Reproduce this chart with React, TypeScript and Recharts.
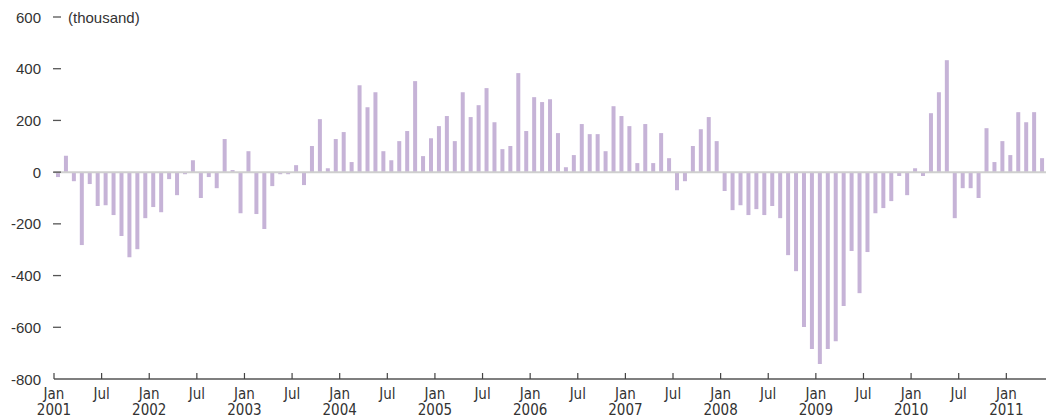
import { Bar, BarChart, ReferenceLine, XAxis, YAxis } from "recharts";

// monthly change in payroll employment, thousands
const years = [2001, 2002, 2003, 2004, 2005, 2006, 2007, 2008, 2009, 2010, 2011];
const v2001 = [-19, 63, -35, -282, -46, -131, -128, -166, -247, -329, -298, -178];
const v2002 = [-135, -155, -27, -89, -8, 46, -100, -19, -62, 128, 8, -159];
const v2003 = [81, -162, -220, -54, -8, -8, 27, -50, 101, 205, 15, 128];
const v2004 = [155, 39, 336, 251, 309, 81, 46, 120, 159, 352, 62, 131];
const v2005 = [178, 217, 120, 309, 213, 259, 325, 193, 89, 101, 383, 159];
const v2006 = [290, 271, 282, 151, 19, 66, 186, 147, 147, 81, 255, 217];
const v2007 = [178, 35, 186, 35, 151, 54, -70, -35, 101, 166, 213, 120];
const v2008 = [-73, -147, -128, -166, -143, -166, -131, -178, -321, -383, -599, -684];
const v2009 = [-742, -684, -654, -518, -305, -468, -309, -159, -139, -112, -15, -89];
const v2010 = [15, -15, 228, 309, 433, -178, -62, -62, -100, 170, 39, 120];
const v2011 = [66, 232, 193, 232, 54];

const yearValues = [v2001, v2002, v2003, v2004, v2005, v2006, v2007, v2008, v2009, v2010, v2011];
const yTicks = [-800, -600, -400, -200, 0, 200, 400, 600];
const unitLabel = "(thousand)";

const data = yearValues.flatMap((vals, yi) =>
  vals.map((v, mi) => ({ t: yi * 12 + mi + 0.5, jobs: v }))
);
const monthCount = data.length;
const xTicks = years.flatMap((_, i) => [i * 12, i * 12 + 6]).filter((t) => t <= monthCount);

const PLOT_BOTTOM = 379;
const labelFont = "'Liberation Sans', Arial, sans-serif";
const narrowFont = "'Liberation Sans Narrow', 'Arial Narrow', 'DejaVu Sans Condensed', sans-serif";

function MonthTick({ x, payload }: { x?: number; payload?: { value: number } }) {
  if (x == null || !payload) return null;
  const isJan = payload.value % 12 === 0;
  const year = years[Math.floor(payload.value / 12)];
  return (
    <g>
      <line x1={x} x2={x} y1={PLOT_BOTTOM - 6} y2={PLOT_BOTTOM} stroke="#444" strokeWidth={1.2} />
      <text x={x} y={PLOT_BOTTOM + 20} textAnchor="middle" fontSize={15} fill="#333" fontFamily={narrowFont}>
        {isJan ? "Jan" : "Jul"}
      </text>
      {isJan && (
        <text x={x} y={PLOT_BOTTOM + 36} textAnchor="middle" fontSize={15} fill="#333" fontFamily={narrowFont}>
          {year}
        </text>
      )}
    </g>
  );
}

function ValueTick({ y, payload }: { y?: number; payload?: { value: number } }) {
  if (y == null || !payload) return null;
  const v = payload.value;
  return (
    <g>
      <text x={41} y={y + 5.5} textAnchor="end" fontSize={15} fill="#333" fontFamily={labelFont}>
        {v}
      </text>
      {v !== yTicks[0] && <line x1={53} x2={61} y1={y} y2={y} stroke="#555" strokeWidth={1.3} />}
      {v === yTicks[yTicks.length - 1] && (
        <text x={68} y={y + 5.5} fontSize={15} fill="#333" fontFamily={labelFont}>
          {unitLabel}
        </text>
      )}
    </g>
  );
}

export default function App() {
  return (
    <div style={{ position: "absolute", left: 0, top: 0, width: 1048, height: 420, background: "#fff" }}>
      <BarChart width={1048} height={420} data={data} margin={{ top: 17, right: 2, bottom: 0, left: 0 }}>
        <XAxis
          dataKey="t"
          type="number"
          domain={[0, monthCount]}
          ticks={xTicks}
          interval={0}
          height={41}
          axisLine={{ stroke: "#555", strokeWidth: 1.5 }}
          tickLine={false}
          tick={<MonthTick />}
        />
        <YAxis
          type="number"
          domain={[yTicks[0], yTicks[yTicks.length - 1]]}
          ticks={yTicks}
          interval={0}
          width={54}
          axisLine={false}
          tickLine={false}
          tick={<ValueTick />}
        />
        <ReferenceLine y={0} stroke="#cfcfcf" strokeWidth={2} />
        <Bar dataKey="jobs" fill="#c6b3d7" barSize={4} isAnimationActive={false} />
      </BarChart>
    </div>
  );
}
